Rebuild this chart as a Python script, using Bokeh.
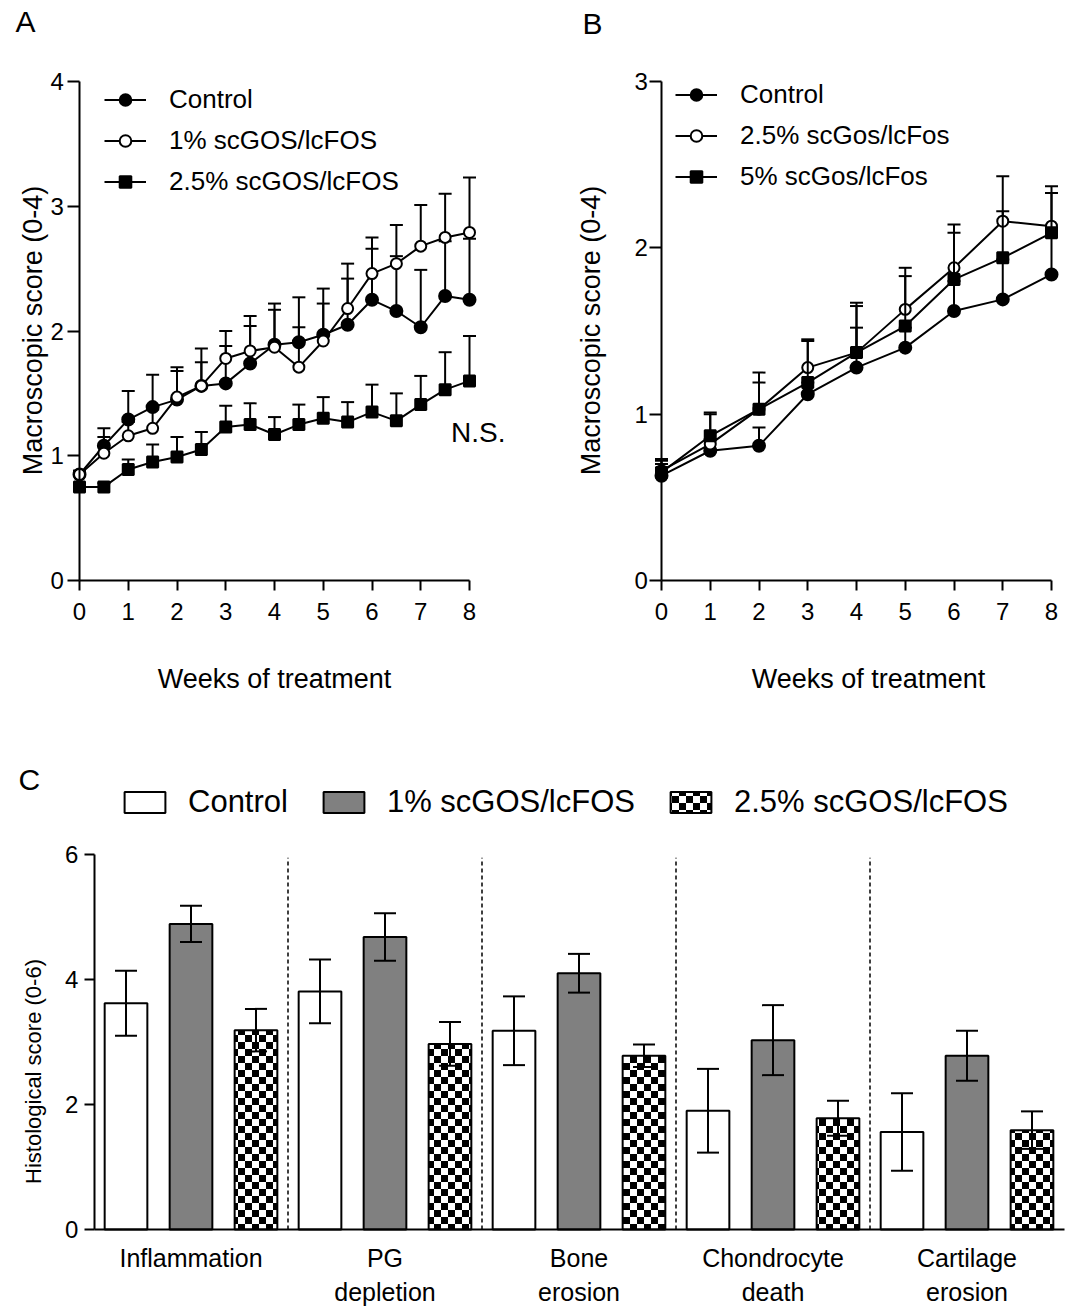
from math import pi
from bokeh.plotting import figure
from bokeh.models import (ColumnDataSource, Whisker, TeeHead, Legend, LegendItem, Label,
                          FixedTicker, CanvasTexture, Range1d, LinearAxis)
from bokeh.core.properties import value
from bokeh.layouts import column, row
from bokeh.embed import file_html
from bokeh.resources import INLINE

FONT = "Liberation Sans"

# ---------------- Panel A data ----------------
weeks_a = [0, 0.5, 1, 1.5, 2, 2.5, 3, 3.5, 4, 4.5, 5, 5.5, 6, 6.5, 7, 7.5, 8]
ctrl_a = [0.85, 1.08, 1.29, 1.39, 1.45, 1.56, 1.58, 1.74, 1.89, 1.91, 1.97, 2.05, 2.25, 2.16, 2.03, 2.28, 2.25]
ctrl_a_up = [0.88, 1.22, 1.52, 1.65, 1.71, 1.86, 1.88, 2.04, 2.22, 2.27, 2.22, 2.42, 2.66, 2.60, 2.49, 2.72, 2.74]
gos1_a = [0.85, 1.02, 1.16, 1.22, 1.47, 1.56, 1.78, 1.84, 1.87, 1.71, 1.92, 2.18, 2.46, 2.54, 2.68, 2.75, 2.79]
gos1_a_up = [0.88, 1.15, 1.27, 1.37, 1.68, 1.75, 2.00, 2.12, 2.17, 2.03, 2.34, 2.54, 2.75, 2.85, 3.01, 3.10, 3.23]
gos25_a = [0.75, 0.75, 0.89, 0.95, 0.99, 1.05, 1.23, 1.25, 1.17, 1.25, 1.30, 1.27, 1.35, 1.28, 1.41, 1.53, 1.60]
gos25_a_up = [0.78, 0.78, 0.97, 1.09, 1.15, 1.19, 1.40, 1.42, 1.31, 1.41, 1.47, 1.43, 1.57, 1.50, 1.64, 1.83, 1.96]
labels_a = ["Control", "1% scGOS/lcFOS", "2.5% scGOS/lcFOS"]

# ---------------- Panel B data ----------------
weeks_b = [0, 1, 2, 3, 4, 5, 6, 7, 8]
ctrl_b = [0.63, 0.78, 0.81, 1.12, 1.28, 1.40, 1.62, 1.69, 1.84]
ctrl_b_up = [0.70, 0.85, 0.92, 1.19, 1.52, 1.52, 1.80, 1.93, 2.08]
gos25_b = [0.66, 0.82, 1.03, 1.28, 1.37, 1.63, 1.88, 2.16, 2.13]
gos25_b_up = [0.73, 1.01, 1.25, 1.45, 1.67, 1.88, 2.14, 2.43, 2.37]
gos5_b = [0.65, 0.87, 1.03, 1.19, 1.37, 1.53, 1.81, 1.94, 2.09]
gos5_b_up = [0.72, 1.00, 1.19, 1.44, 1.65, 1.83, 2.09, 2.22, 2.33]
labels_b = ["Control", "2.5% scGos/lcFos", "5% scGos/lcFos"]

# ---------------- Panel C data ----------------
categories_c = ["Inflammation\n", "PG\ndepletion", "Bone\nerosion", "Chondrocyte\ndeath", "Cartilage\nerosion"]
control_c = [3.62, 3.81, 3.18, 1.90, 1.56]
control_c_err = [0.52, 0.51, 0.55, 0.67, 0.62]
gos1_c = [4.89, 4.68, 4.10, 3.03, 2.78]
gos1_c_err = [0.29, 0.38, 0.31, 0.56, 0.40]
gos25_c = [3.19, 2.97, 2.78, 1.78, 1.59]
gos25_c_err = [0.34, 0.35, 0.18, 0.28, 0.30]
labels_c = ["Control", "1% scGOS/lcFOS", "2.5% scGOS/lcFOS"]

# ---------------- layout constants (pixels) ----------------
K = 48.75          # px per week (A, B)
TOP_H = 720        # height of the A/B row
Y0_PX = 580        # pixel row of y = 0 in A and B
YMAX_PX = 81       # pixel row of the top tick in A and B


def axis_style(ax, size):
    ax.axis_line_width = 2
    ax.axis_line_color = "black"
    ax.major_tick_line_width = 2
    ax.major_tick_line_color = "black"
    ax.minor_tick_line_color = None
    ax.major_label_text_font = FONT
    ax.major_label_text_font_size = size
    ax.major_label_text_color = "black"


def new_fig(w, h, xr, yr):
    p = figure(width=w, height=h, x_range=Range1d(*xr), y_range=Range1d(*yr), title=None,
               x_axis_location=None, y_axis_location=None, output_backend="svg",
               toolbar_location=None, min_border_left=0, min_border_right=0,
               min_border_top=0, min_border_bottom=0)
    p.grid.visible = False
    p.outline_line_color = None
    p.background_fill_color = "white"
    p.border_fill_color = "white"
    return p


def text_label(p, x, y, text, size, **kw):
    p.add_layout(Label(x=x, y=y, x_units="screen", y_units="screen", text=text,
                       text_font=FONT, text_font_size=size, text_color="black", **kw))


def line_panel(width, x0_px, y_max, weeks, series, labels, letter, letter_x, letter_cy,
               ylab_x, xlab_cx, legend_x, legend_vy, ylab_standoff):
    ppu = (Y0_PX - YMAX_PX) / y_max
    xr = (-x0_px / K, (width - x0_px) / K)
    yr = (-(TOP_H - Y0_PX) / ppu, y_max + YMAX_PX / ppu)
    p = new_fig(width, TOP_H, xr, yr)

    yax = LinearAxis(fixed_location=0, bounds=(0, y_max),
                     ticker=FixedTicker(ticks=list(range(0, y_max + 1))),
                     major_tick_in=12, major_tick_out=0, major_label_standoff=ylab_standoff)
    axis_style(yax, "24px")
    p.add_layout(yax, "right")
    xax = LinearAxis(fixed_location=0, bounds=(0, 8), ticker=FixedTicker(ticks=list(range(0, 9))),
                     major_tick_in=10, major_tick_out=0, major_label_standoff=-39)
    axis_style(xax, "24px")
    p.add_layout(xax, "above")

    markers = [dict(marker="circle", size=12, fill_color="black"),
               dict(marker="circle", size=11, fill_color="white"),
               dict(marker="square", size=11, fill_color="black")]
    items = []
    for (ys, ups), mk, lab in zip(series, markers, labels):
        src = ColumnDataSource(dict(x=weeks, y=ys, up=ups))
        rl = p.line("x", "y", source=src, line_color="black", line_width=2)
        p.segment(x0="x", y0="y", x1="x", y1="up", source=src, line_color="black", line_width=2)
        p.scatter(x="x", y="up", source=src, marker="dash", size=13, line_color="black", line_width=2)
        rs = p.scatter(x="x", y="y", source=src, marker=mk["marker"], size=mk["size"],
                       fill_color=mk["fill_color"], line_color="black", line_width=2)
        items.append(LegendItem(label=lab, renderers=[rl, rs]))

    legend = Legend(items=items, location=(legend_x, legend_vy), orientation="vertical",
                    glyph_width=42, glyph_height=29, label_standoff=23, spacing=10,
                    padding=0, margin=0, border_line_color=None, background_fill_alpha=0,
                    label_text_font=FONT, label_text_font_size="26px", label_text_color="black")
    p.add_layout(legend)

    text_label(p, letter_x, TOP_H - letter_cy, letter, "30px", text_baseline="middle")
    text_label(p, ylab_x, TOP_H - 330, "Macroscopic score (0-4)", "27px", angle=pi / 2,
               text_align="center", text_baseline="middle")
    text_label(p, xlab_cx, TOP_H - 678.5, "Weeks of treatment", "27px", text_align="center",
               text_baseline="middle")
    return p


# Panel A (pixels 0..548)
pA = line_panel(548, 79, 4, weeks_a,
                [(ctrl_a, ctrl_a_up), (gos1_a, gos1_a_up), (gos25_a, gos25_a_up)],
                labels_a, "A", 15, 21, 32, 274, 104, 523.5, -29)
pA.add_layout(Label(x=8.18, y=1.19, text="N.S.", text_align="center", text_baseline="middle",
                    text_font=FONT, text_font_size="28px", text_color="black"))

# Panel B (pixels 548..1070)
pB = line_panel(522, 113, 3, weeks_b,
                [(ctrl_b, ctrl_b_up), (gos25_b, gos25_b_up), (gos5_b, gos5_b_up)],
                labels_b, "B", 34, 22.5, 42, 320, 127, 528.5, -27)

# Panel C (pixels 0..1070, 720..1306); group spacing 194 px, group 0 centre at 190.5 px
GU = 194.0
C_H = 586
C_Y0 = 1229 - 720          # pixel row of y = 0 inside the C canvas
C_PPU = 62.5
pC = new_fig(1070, C_H, (-190.5 / GU, (1070 - 190.5) / GU),
             (-(C_H - C_Y0) / C_PPU, C_Y0 / C_PPU))

ycax = LinearAxis(fixed_location=-0.5, bounds=(0, 6), ticker=FixedTicker(ticks=[0, 2, 4, 6]),
                  major_tick_in=10, major_tick_out=0, major_label_standoff=-29)
axis_style(ycax, "24px")
pC.add_layout(ycax, "right")
xcax = LinearAxis(fixed_location=0, bounds=(-0.5, 4.5),
                  ticker=FixedTicker(ticks=list(range(len(categories_c)))),
                  major_tick_in=0, major_tick_out=0, major_label_standoff=-76)
axis_style(xcax, "25px")
xcax.major_label_overrides = {i: c for i, c in enumerate(categories_c)}
pC.add_layout(xcax, "above")

checker = CanvasTexture(code="""
const c = ctx.canvas;
c.width = 14;
c.height = 14;
ctx.fillStyle = 'white';
ctx.fillRect(0, 0, 14, 14);
ctx.fillStyle = 'black';
ctx.fillRect(0, 0, 7, 7);
ctx.fillRect(7, 7, 7, 7);
""")

group_x = list(range(len(categories_c)))
offsets = [-0.335, 0.0, 0.335]
bar_w = 0.22
styles = [dict(fill_color="white"),
          dict(fill_color="#808080"),
          dict(fill_color="white", hatch_pattern=value("checker"),
               hatch_extra={"checker": checker}, hatch_scale=14)]
bar_items = []
for vals, errs, off, st, lab in zip([control_c, gos1_c, gos25_c],
                                    [control_c_err, gos1_c_err, gos25_c_err],
                                    offsets, styles, labels_c):
    xs = [g + off for g in group_x]
    src = ColumnDataSource(dict(x=xs, top=vals,
                                lo=[v - e for v, e in zip(vals, errs)],
                                hi=[v + e for v, e in zip(vals, errs)]))
    r = pC.vbar(x="x", top="top", bottom=0, width=bar_w, source=src, line_color="black",
                line_width=2, **st)
    pC.add_layout(Whisker(base="x", lower="lo", upper="hi", source=src, level="overlay",
                          line_color="black", line_width=2,
                          upper_head=TeeHead(size=22, line_width=2, line_color="black"),
                          lower_head=TeeHead(size=22, line_width=2, line_color="black")))
    bar_items.append(LegendItem(label=lab, renderers=[r]))

sep_x = [g + 0.5 for g in group_x[:-1]]
pC.segment(x0=sep_x, y0=[0] * len(sep_x), x1=sep_x, y1=[5.95] * len(sep_x),
           line_color="black", line_width=1.5, line_dash="4 3")

legC = Legend(items=bar_items, location=(119, C_H - (819.5 - 720)), orientation="horizontal",
              glyph_width=51, glyph_height=26, label_standoff=18, spacing=30,
              padding=0, margin=0, border_line_color=None, background_fill_alpha=0,
              label_text_font=FONT, label_text_font_size="31px", label_text_color="black")
pC.add_layout(legC)
text_label(pC, 18, C_H - (779 - 720), "C", "30px", text_baseline="middle")
text_label(pC, 33, C_H - (1071 - 720), "Histological score (0-6)", "22px", angle=pi / 2,
           text_align="center", text_baseline="middle")

layout = column(row(pA, pB), pC)
open("out.html", "w").write(file_html(layout, INLINE))
